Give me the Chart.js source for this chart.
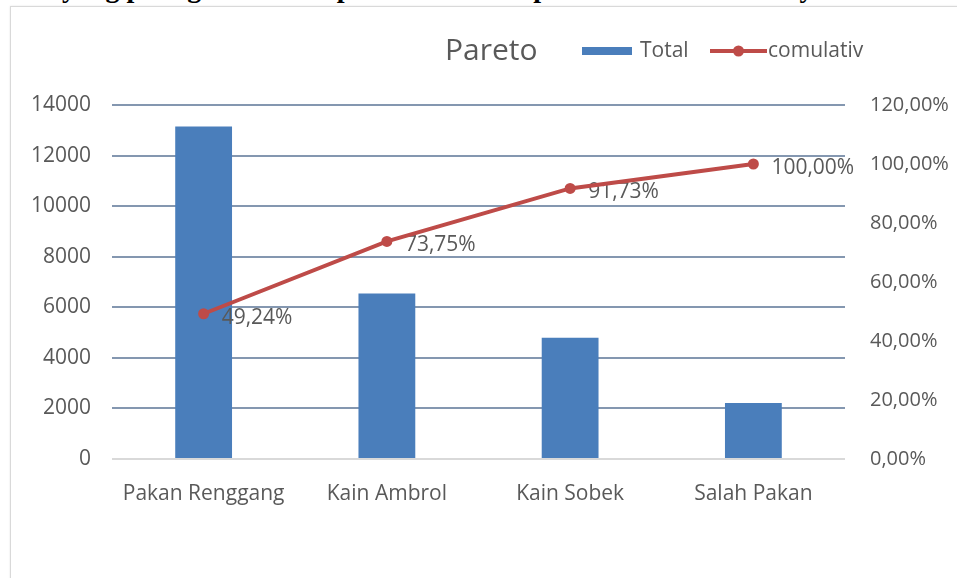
<!DOCTYPE html>
<html>
<head>
<meta charset="utf-8">
<script src="https://cdn.jsdelivr.net/npm/chart.js@4.4.1/dist/chart.umd.min.js"></script>
<style>
    body{margin:0;background:#fff;width:957px;height:578px;overflow:hidden;position:relative;}
    #caption{position:absolute;left:62px;top:-26px;font-family:"Liberation Serif","DejaVu Serif",serif;font-weight:bold;font-size:28px;line-height:28px;white-space:nowrap;color:#000;}
    #frame{position:absolute;left:10px;top:6px;width:960px;height:580px;border:1px solid #d9d9d9;box-shadow:0 0 2px #e6e6e6;}
    #holder{position:absolute;left:0;top:0;width:957px;height:578px;}
</style>
</head>
<body>
<div id="caption">yang paling besar dari pareto dan data presentase kumulatifnya</div>
<div id="frame"></div>
<div id="holder"><canvas id="chart-area"></canvas></div>
<script>
var categories = ['Pakan Renggang', 'Kain Ambrol', 'Kain Sobek', 'Salah Pakan'];
var totals = [13150, 6545, 4800, 2210];
var cumulative = [49.24, 73.75, 91.73, 100.00];
var leftMax = 14000, leftStep = 2000;
var rightMax = 120, rightStep = 20;

var textColor = '#595959';
var barColor = '#4a7ebb';
var lineColor = '#be4b48';
var fontName = '"Open Sans", sans-serif';

function pct(v){
    return v.toFixed(2).replace('.', ',') + '%';
}

// judul + legenda di satu baris
var headerPlugin = {
    id: 'header',
    afterDraw: function(chart){
        var ctx = chart.ctx;
        ctx.save();
        ctx.fillStyle = textColor;
        ctx.textBaseline = 'middle';
        ctx.textAlign = 'left';
        ctx.font = '30px ' + fontName;
        ctx.fillText('Pareto', 445, 51);
        ctx.font = '21px ' + fontName;
        ctx.fillStyle = barColor;
        ctx.fillRect(582, 47, 50, 8);
        ctx.fillStyle = textColor;
        ctx.fillText(chart.data.datasets[0].label, 640, 51);
        ctx.strokeStyle = lineColor;
        ctx.lineWidth = 4;
        ctx.beginPath();
        ctx.moveTo(710, 51);
        ctx.lineTo(767, 51);
        ctx.stroke();
        ctx.fillStyle = lineColor;
        ctx.beginPath();
        ctx.arc(738.5, 51, 5.5, 0, Math.PI * 2);
        ctx.fill();
        ctx.fillStyle = textColor;
        ctx.fillText(chart.data.datasets[1].label, 768, 51);
        ctx.restore();
    }
};

// label persen di samping titik, digambar di bawah garis
var labelPlugin = {
    id: 'pctLabels',
    afterDatasetDraw: function(chart, args){
        if(args.index !== 0) return;
        var meta = chart.getDatasetMeta(1);
        var ctx = chart.ctx;
        ctx.save();
        ctx.font = '21px ' + fontName;
        ctx.fillStyle = textColor;
        ctx.textAlign = 'left';
        ctx.textBaseline = 'middle';
        meta.data.forEach(function(pt, i){
            ctx.fillText(pct(cumulative[i]), pt.x + 18, pt.y + 4);
        });
        ctx.restore();
    }
};

var config = {
    data: {
        labels: categories,
        datasets: [{
            type: 'bar',
            label: 'Total',
            data: totals,
            backgroundColor: barColor,
            yAxisID: 'y',
            order: 2,
            categoryPercentage: 1,
            barPercentage: 0.31
        }, {
            type: 'line',
            label: 'comulativ',
            data: cumulative,
            borderColor: lineColor,
            backgroundColor: lineColor,
            borderWidth: 4,
            pointRadius: 5.5,
            pointBackgroundColor: lineColor,
            pointBorderWidth: 0,
            tension: 0,
            yAxisID: 'y1',
            order: 1
        }]
    },
    options: {
        responsive: false,
        animation: false,
        layout: {padding: {top: 105, left: 0, right: 0, bottom: 0}},
        plugins: {
            legend: {display: false},
            title: {display: false},
            tooltip: {enabled: false}
        },
        scales: {
            x: {
                grid: {display: false},
                border: {display: false},
                ticks: {color: textColor, font: {family: fontName, size: 21}, padding: 14},
                afterFit: function(s){ s.height = 119; }
            },
            y: {
                position: 'left',
                min: 0, max: leftMax,
                ticks: {
                    stepSize: leftStep, color: textColor, font: {family: fontName, size: 21}, padding: 21,
                    callback: function(v){ return String(v); }
                },
                grid: {
                    drawTicks: false,
                    lineWidth: 2,
                    color: function(c){ return c.tick.value === 0 ? '#d9d9d9' : '#8497b0'; }
                },
                border: {display: false},
                afterFit: function(s){ s.width = 112; }
            },
            y1: {
                position: 'right',
                min: 0, max: rightMax,
                ticks: {
                    stepSize: rightStep, color: textColor, font: {family: fontName, size: 20}, padding: 25,
                    callback: function(v){ return pct(v); }
                },
                grid: {display: false, drawTicks: false},
                border: {display: false},
                afterFit: function(s){ s.width = 112; }
            }
        }
    },
    plugins: [labelPlugin, headerPlugin]
};

var canvas = document.getElementById('chart-area');
canvas.width = 957;
canvas.height = 578;
canvas.style.width = '957px';
canvas.style.height = '578px';
var myChart = new Chart(canvas.getContext('2d'), config);
</script>
</body>
</html>
